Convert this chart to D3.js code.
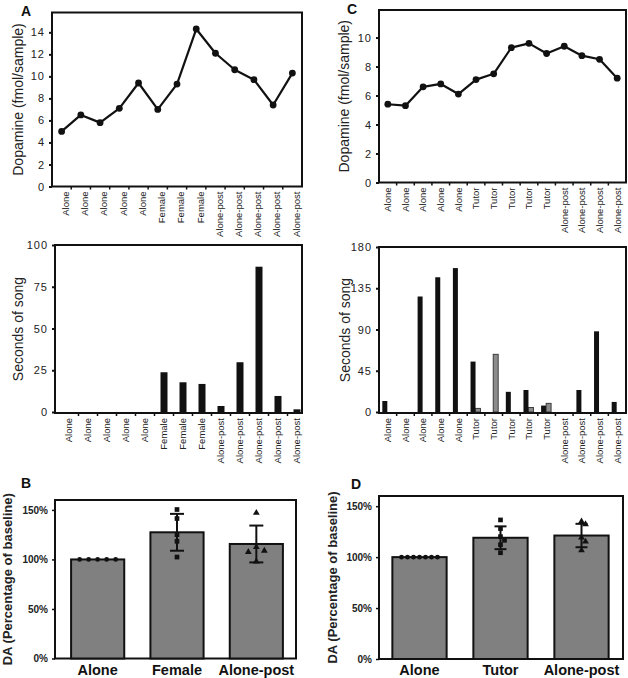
<!DOCTYPE html>
<html>
<head>
<meta charset="utf-8">
<script src="https://cdn.jsdelivr.net/npm/d3@7/dist/d3.min.js"></script>
<style>
  body { margin: 0; background: #fff; }
  svg { display: block; font-family: "Liberation Sans", Arial, Helvetica, sans-serif; }
</style>
</head>
<body>
<svg id="fig" width="628" height="678"></svg>
<script>
// ---- panel A (female) ----
const sessionsA = ['Alone', 'Alone', 'Alone', 'Alone', 'Alone', 'Female', 'Female', 'Female',
    'Alone-post', 'Alone-post', 'Alone-post', 'Alone-post', 'Alone-post'];
const dopamineA = [5.0, 6.5, 5.8, 7.1, 9.4, 7.0, 9.3, 14.3, 12.1, 10.6, 9.7, 7.4, 10.3];
const songA = [0, 0, 0, 0, 0, 23.8, 17.8, 16.8, 3.6, 29.8, 87, 9.6, 1.6];
const dopTicksA = [0, 2, 4, 6, 8, 10, 12, 14];
const songTicksA = [0, 25, 50, 75, 100];

// ---- panel C (tutor) ----
const sessionsC = ['Alone', 'Alone', 'Alone', 'Alone', 'Alone', 'Tutor', 'Tutor', 'Tutor', 'Tutor', 'Tutor',
    'Alone-post', 'Alone-post', 'Alone-post', 'Alone-post'];
const dopamineC = [5.4, 5.3, 6.6, 6.8, 6.1, 7.1, 7.5, 9.3, 9.6, 8.9, 9.4, 8.75, 8.5, 7.2];
const songBirdC = [12, 0, 126, 147, 157, 55, 0, 22, 24, 7, 0, 24, 88, 11];
const songTutorC = [0, 0, 0, 0, 0, 4, 63, 0, 5, 9.5, 0, 0, 0, 0];
const dopTicksC = [0, 2, 4, 6, 8, 10];
const songTicksC = [0, 45, 90, 135, 180];

// ---- panels B and D (percent of baseline) ----
const groupsB = ['Alone', 'Female', 'Alone-post'];
const meanB = [1.0, 1.274, 1.156];
const sdB = [0, 0.186, 0.186];
const pointsB = [
    [1, 1, 1, 1, 1],
    [1.504, 1.413, 1.25, 1.183, 1.024],
    [1.47, 1.126, 1.088, 1.075, 0.98]
];
const groupsD = ['Alone', 'Tutor', 'Alone-post'];
const meanD = [1.0, 1.19, 1.212];
const sdD = [0, 0.112, 0.115];
const pointsD = [
    [1, 1, 1, 1, 1, 1, 1],
    [1.365, 1.28, 1.201, 1.165, 1.122, 1.043],
    [1.35, 1.323, 1.192, 1.152, 1.066]
];
const pctTicks = [0, 0.5, 1, 1.5];

const svg = d3.select('#fig');
const ink = '#111';

function frame(x0, x1, y0, y1) {
    svg.append('rect')
        .attr('x', x0).attr('y', y0)
        .attr('width', x1 - x0).attr('height', y1 - y0)
        .attr('fill', 'none').attr('stroke', ink).attr('stroke-width', 2);
}

function leftAxis(y, x0, ticks, fmt, font) {
    const g = svg.append('g')
        .attr('transform', `translate(${x0},0)`)
        .call(d3.axisLeft(y).tickValues(ticks).tickSize(3).tickPadding(4).tickFormat(fmt));
    g.select('.domain').remove();
    g.selectAll('line').attr('stroke', ink).attr('stroke-width', 2);
    g.selectAll('text')
        .attr('font-family', null)
        .style('font-size', font.size)
        .style('font-weight', font.weight)
        .style('letter-spacing', font.spacing)
        .attr('fill', '#222');
    return g;
}

function yTitle(text, cx, cy, size, weight) {
    svg.append('text')
        .attr('transform', `translate(${cx},${cy}) rotate(-90)`)
        .attr('text-anchor', 'middle')
        .attr('dy', '0.35em')
        .style('font-size', size + 'px')
        .style('font-weight', weight)
        .attr('fill', '#222')
        .text(text);
}

function sessionAxis(x, labels, yb, shift) {
    // small ticks at the band borders
    svg.append('g').selectAll('line')
        .data(d3.range(1, labels.length))
        .join('line')
        .attr('x1', i => x(i)).attr('x2', i => x(i))
        .attr('y1', yb).attr('y2', yb + 3)
        .attr('stroke', ink).attr('stroke-width', 1.5);
    svg.append('g').selectAll('text')
        .data(labels)
        .join('text')
        .attr('transform', (d, i) => `translate(${x(i) + x.bandwidth() / 2 + shift},${yb + 5}) rotate(-90)`)
        .attr('text-anchor', 'end')
        .attr('dy', '0.35em')
        .style('font-size', '9.5px')
        .attr('fill', '#222')
        .text(d => d);
}

function panelLetter(t, x, y) {
    svg.append('text').attr('x', x).attr('y', y)
        .style('font-size', '14px').style('font-weight', 'bold')
        .attr('fill', ink).text(t);
}

// ---- dopamine trace ----
function dopaminePanel(p) {
    const x = d3.scaleBand().domain(d3.range(p.labels.length)).range([p.x0, p.x1]);
    const y = d3.scaleLinear().domain([0, p.max]).range([p.y1, p.y0]);
    frame(p.x0, p.x1, p.y0, p.y1);
    leftAxis(y, p.x0, p.ticks, d3.format('d'), { size: '11px', weight: 'normal', spacing: '1px' });
    sessionAxis(x, p.labels, p.y1, p.labelShift);
    const cx = (d, i) => x(i) + x.bandwidth() / 2;
    svg.append('path')
        .datum(p.values)
        .attr('d', d3.line().x(cx).y(d => y(d)))
        .attr('fill', 'none').attr('stroke', ink).attr('stroke-width', 2.2)
        .attr('stroke-linejoin', 'round');
    svg.append('g').selectAll('circle')
        .data(p.values)
        .join('circle')
        .attr('cx', cx).attr('cy', d => y(d)).attr('r', 3.4)
        .attr('fill', ink);
    yTitle('Dopamine (fmol/sample)', p.titleX, (p.y0 + p.y1) / 2, 14, 'normal');
}

// ---- seconds of song ----
function songPanel(p) {
    const x = d3.scaleBand().domain(d3.range(p.labels.length)).range([p.x0 + p.shift, p.x1 + p.shift]);
    const y = d3.scaleLinear().domain([0, p.max]).range([p.y1 - 1, p.y0]);
    const n = p.series.length;
    const inner = d3.scaleBand().domain(d3.range(n))
        .range([x.bandwidth() / 2 - p.barW * n / 2, x.bandwidth() / 2 + p.barW * n / 2]);
    p.series.forEach((s, k) => {
        const rows = s.values.map((v, i) => ({ v, i })).filter(d => d.v > 0);
        svg.append('g').selectAll('rect')
            .data(rows)
            .join('rect')
            .attr('x', d => x(d.i) + inner(k) + (n > 1 ? p.groupShift : 0))
            .attr('width', inner.bandwidth())
            .attr('y', d => y(d.v))
            .attr('height', d => y(0) - y(d.v))
            .attr('fill', s.color)
            .attr('stroke', s.stroke).attr('stroke-width', s.stroke === 'none' ? 0 : 0.8);
    });
    frame(p.x0, p.x1, p.y0, p.y1);
    leftAxis(y, p.x0, p.ticks, d3.format('d'), { size: '11px', weight: 'normal', spacing: '1px' });
    sessionAxis(x, p.labels, p.y1, 0);
    yTitle('Seconds of song', p.titleX, (p.y0 + p.y1) / 2, 14, 'normal');
}

// simple collision nudge so overlapping points sit side by side
function nudge(vals, y, step, gap) {
    const placed = [];
    const tries = [0];
    for (let j = 1; j < 10; j++) tries.push(j % 2 ? Math.ceil(j / 2) : -j / 2);
    return vals.map(v => {
        const py = y(v);
        let off = 0;
        for (let k = 0; k < tries.length; k++) {
            off = tries[k] * step;
            if (!placed.some(q => Math.abs(q.y - py) < gap && Math.abs(q.o - off) < step * 0.9)) break;
        }
        placed.push({ y: py, o: off });
        return off;
    });
}

// ---- summary bars ----
function summaryPanel(p) {
    const x = d3.scaleBand().domain(p.groups).range([p.bx0, p.bx1]).paddingInner(0.33).paddingOuter(0.165);
    const y = d3.scaleLinear().domain([0, 1.6]).range([p.y1, p.y0]);
    frame(p.x0, p.x1, p.y0, p.y1);
    svg.append('g').selectAll('rect')
        .data(p.mean)
        .join('rect')
        .attr('x', (d, i) => x(p.groups[i]))
        .attr('width', x.bandwidth())
        .attr('y', d => y(d))
        .attr('height', d => y(0) - y(d))
        .attr('fill', '#808080')
        .attr('stroke', ink).attr('stroke-width', 2);
    // error bars (SD)
    const eb = svg.append('g').attr('stroke', ink).attr('stroke-width', 2);
    p.mean.forEach((m, i) => {
        if (!p.sd[i]) return;
        const cx = x(p.groups[i]) + x.bandwidth() / 2;
        eb.append('line').attr('x1', cx).attr('x2', cx).attr('y1', y(m - p.sd[i])).attr('y2', y(m + p.sd[i]));
        [m - p.sd[i], m + p.sd[i]].forEach(v => {
            eb.append('line').attr('x1', cx - p.cap).attr('x2', cx + p.cap).attr('y1', y(v)).attr('y2', y(v));
        });
    });
    // individual birds
    const shapes = [d3.symbolCircle, d3.symbolSquare, d3.symbolTriangle];
    const sizes = [18, 22, 20];
    p.points.forEach((vals, i) => {
        const cx = x(p.groups[i]) + x.bandwidth() / 2;
        const offs = nudge(vals, y, p.step[i], 6);
        svg.append('g').selectAll('path')
            .data(vals)
            .join('path')
            .attr('transform', (d, j) => `translate(${cx + offs[j]},${y(d)})`)
            .attr('d', d3.symbol().type(shapes[i]).size(sizes[i]))
            .attr('fill', ink);
    });
    leftAxis(y, p.x0, pctTicks, d3.format('.0%'), { size: '10px', weight: 'bold', spacing: '0px' })
        .selectAll('line').attr('stroke-width', 1.5);
    svg.append('g').selectAll('text')
        .data(p.groups)
        .join('text')
        .attr('x', d => x(d) + x.bandwidth() / 2)
        .attr('y', 675)
        .attr('text-anchor', 'middle')
        .style('font-size', '14.5px').style('font-weight', 'bold')
        .attr('fill', ink)
        .text(d => d);
    yTitle('DA (Percentage of baseline)', p.titleX, (p.y0 + p.y1) / 2, 13, 'bold');
}

dopaminePanel({ labels: sessionsA, values: dopamineA, ticks: dopTicksA, max: 15.8,
    x0: 52, x1: 302, y0: 12.5, y1: 186.5, labelShift: 4, titleX: 18 });
songPanel({ labels: sessionsA, ticks: songTicksA, max: 100, barW: 7, shift: 4.5, groupShift: 0,
    series: [{ values: songA, color: '#111', stroke: 'none' }],
    x0: 55, x1: 302, y0: 245, y1: 413, titleX: 18 });

dopaminePanel({ labels: sessionsC, values: dopamineC, ticks: dopTicksC, max: 11.9,
    x0: 379, x1: 626, y0: 10, y1: 182.5, labelShift: 0, titleX: 344 });
songPanel({ labels: sessionsC, ticks: songTicksC, max: 180, barW: 5, shift: 0, groupShift: -0.5,
    series: [{ values: songBirdC, color: '#111', stroke: 'none' },
             { values: songTutorC, color: '#8c8c8c', stroke: '#222' }],
    x0: 379, x1: 626, y0: 247, y1: 413, titleX: 345 });

summaryPanel({ groups: groupsB, mean: meanB, sd: sdB, points: pointsB, step: [9, 4, 8], cap: 7,
    x0: 55, x1: 296, bx0: 58, bx1: 296, y0: 500, y1: 658.5, titleX: 7 });
summaryPanel({ groups: groupsD, mean: meanD, sd: sdD, points: pointsD, step: [6, 4, 4], cap: 6,
    x0: 379, x1: 623, bx0: 379, bx1: 622, y0: 496, y1: 659, titleX: 332 });

panelLetter('A', 21, 16);
panelLetter('C', 347, 14);
panelLetter('B', 21, 488);
panelLetter('D', 351, 489);
</script>
</body>
</html>
